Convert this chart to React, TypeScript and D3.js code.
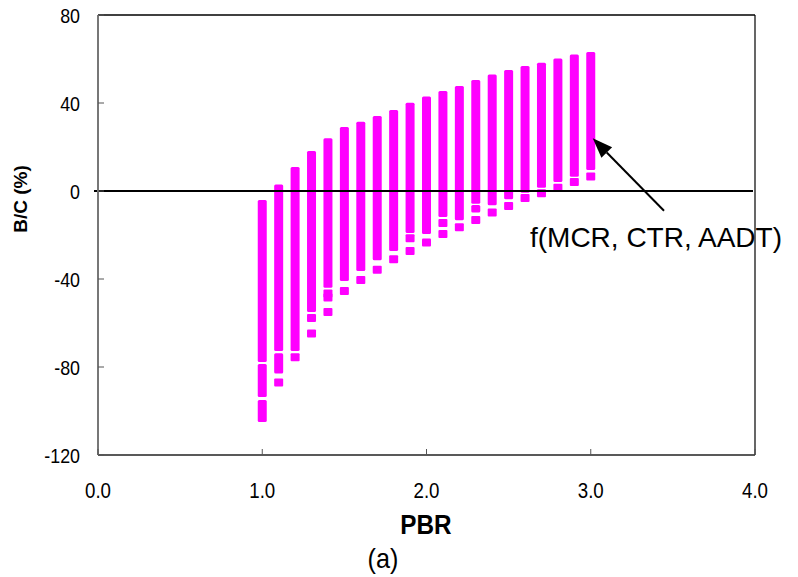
import React from "react";
import * as d3 from "d3";

// ---- data ----
// main continuous clusters of f(MCR, CTR, AADT) per PBR: [pbr, upper, lower]
const segPbr = [1.0, 1.0, 1.0, 1.1, 1.1, 1.2, 1.3, 1.4, 1.5, 1.6, 1.7, 1.8, 1.9, 2.0, 2.1, 2.2, 2.3, 2.3, 2.4, 2.5, 2.6, 2.7, 2.8, 2.9, 3.0];
const segHi = [-4.1, -78.6, -95, 3.0, -73.8, 10.9, 18.2, 24, 29.1, 31.5, 34.1, 36.8, 40.1, 42.9, 45.5, 47.7, 50.5, -6.4, 53, 55, 56.8, 58.3, 60.2, 62, 63.2];
const segLo = [-77.7, -93.6, -105, -72.7, -83, -72.7, -55, -44, -40.9, -36.4, -31.5, -27.3, -19.1, -19.5, -11.8, -13.3, -5.8, -9.8, -6.5, -3.8, -0.8, 1.5, 4.1, 6.5, 9.5];
// isolated points below the clusters
const ptPbr = [1.1, 1.2, 1.3, 1.3, 1.4, 1.4, 1.4, 1.5, 1.6, 1.7, 1.8, 1.9, 1.9, 2.0, 2.1, 2.1, 2.2, 2.3, 2.4, 2.5, 2.6, 2.7, 2.8, 2.9, 3.0];
const ptVal = [-87, -75.6, -57.7, -64.8, -46.6, -48.4, -55, -45.5, -40.5, -35.8, -31, -21.5, -27.3, -23.4, -14.5, -19.5, -16.5, -13.2, -9.8, -6.8, -3.2, -1, 1.5, 4.1, 6.6];

const xTicks = [0, 1, 2, 3, 4];
const yTicks = [-120, -80, -40, 0, 40, 80];
const annoText = "f(MCR, CTR, AADT)";
const annoTip = [3.0, 24];
const annoTail = [3.446, -9];
const annoLabel = [2.63, -25.5];

const W = 798, H = 577;
const L = 98, R = 755, T = 15, B = 455;
const MAG = "#FF00FF";
const FONT = "Arial, 'Liberation Sans', Helvetica, sans-serif";

function CText({ x, y, sx = 0.85, children, ...rest }: any) {
  return (
    <text transform={`translate(${x},${y}) scale(${sx},1)`} {...rest}>
      {children}
    </text>
  );
}

export default function App() {
  const x = d3.scaleLinear().domain([0, 4]).range([L, R]);
  const y = d3.scaleLinear().domain([-120, 80]).range([B, T]);
  const bw = 9;
  const ph = 8;

  const tip = [x(annoTip[0]) + 2, y(annoTip[1])];
  const tail = [x(annoTail[0]), y(annoTail[1])];
  const ang = Math.atan2(tail[1] - tip[1], tail[0] - tip[0]);
  const hl = 20, hw = 7.5;
  const bx = tip[0] + hl * Math.cos(ang), by = tip[1] + hl * Math.sin(ang);
  const head = [
    [tip[0], tip[1]],
    [bx + hw * Math.sin(ang), by - hw * Math.cos(ang)],
    [bx - hw * Math.sin(ang), by + hw * Math.cos(ang)],
  ];

  return (
    <svg width={W} height={H} style={{ position: "absolute", left: 0, top: 0, background: "#fff" }} fontFamily={FONT}>
      <rect x={0} y={0} width={W} height={H} fill="#fff" />
      {/* clusters */}
      {segPbr.map((p, i) => (
        <rect key={"s" + i} x={x(p) - bw / 2} y={y(segHi[i])} width={bw} height={y(segLo[i]) - y(segHi[i])} fill={MAG} rx={1.5} />
      ))}
      {ptPbr.map((p, i) => (
        <rect key={"p" + i} x={x(p) - bw / 2} y={y(ptVal[i]) - ph / 2} width={bw} height={ph} fill={MAG} rx={1} />
      ))}
      {/* zero line */}
      <line x1={L - 4} x2={R - 2} y1={y(0)} y2={y(0)} stroke="#000" strokeWidth={2} />
      {/* frame */}
      <line x1={L} x2={R} y1={T} y2={T} stroke="#000" strokeWidth={1.5} />
      <line x1={R} x2={R} y1={T} y2={B} stroke="#000" strokeWidth={1.2} />
      <line x1={L} x2={R} y1={B} y2={B} stroke="#222" strokeWidth={1.5} />
      <line x1={L} x2={L} y1={T} y2={B} stroke="#777" strokeWidth={2} />
      {/* y ticks */}
      {yTicks.map((t) => (
        <g key={"y" + t}>
          <line x1={L} x2={L + 6} y1={y(t)} y2={y(t)} stroke="#555" strokeWidth={1} />
          <CText x={80} y={y(t) + 7.5} sx={0.85} textAnchor="end" fontSize={21}>{t}</CText>
        </g>
      ))}
      {/* x ticks */}
      {xTicks.map((t) => (
        <g key={"x" + t}>
          <line x1={x(t)} x2={x(t)} y1={B} y2={B - 6} stroke="#555" strokeWidth={1} />
          <CText x={x(t)} y={498} sx={0.85} textAnchor="middle" fontSize={22}>{t.toFixed(1)}</CText>
        </g>
      ))}
      {/* axis titles */}
      <CText x={426} y={534} sx={0.9} textAnchor="middle" fontSize={27} fontWeight="bold">PBR</CText>
      <CText x={383} y={568} sx={0.9} textAnchor="middle" fontSize={28}>(a)</CText>
      <text transform={`translate(27,${199}) rotate(-90)`} textAnchor="middle" fontSize={19} fontWeight="bold">B/C (%)</text>
      {/* annotation */}
      <line x1={tail[0]} y1={tail[1]} x2={bx} y2={by} stroke="#000" strokeWidth={2} />
      <polygon points={head.map((p) => p.join(",")).join(" ")} fill="#000" />
      <text x={x(annoLabel[0])} y={y(annoLabel[1])} fontSize={28}>{annoText}</text>
    </svg>
  );
}
